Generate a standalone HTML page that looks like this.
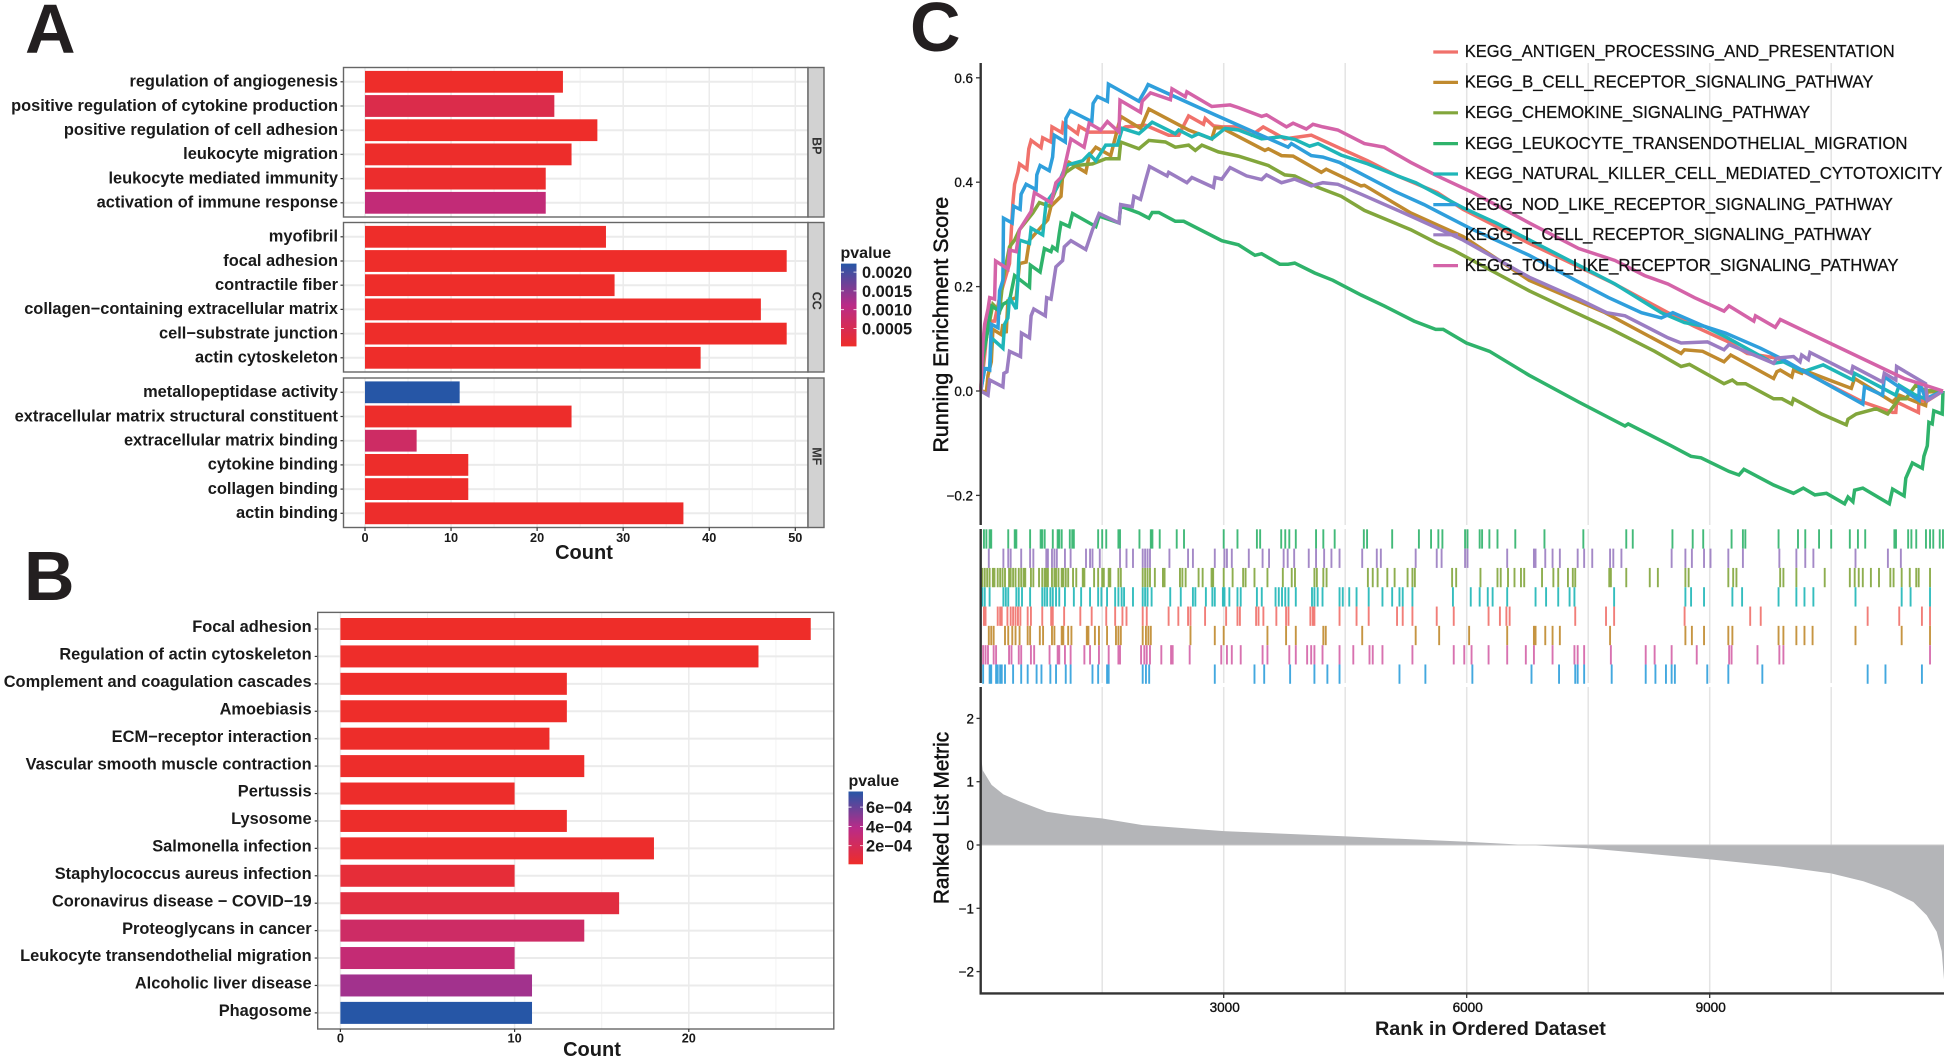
<!DOCTYPE html>
<html lang="en">
<head>
<meta charset="utf-8">
<title>Enrichment analysis figure</title>
<style>
html,body{margin:0;padding:0;background:#fff;}
svg{display:block;font-family:"Liberation Sans",Arial,sans-serif;}
</style>
</head>
<body>
<svg id="fig" xmlns="http://www.w3.org/2000/svg" width="1948" height="1061" viewBox="0 0 1948 1061">
  <defs>
    <linearGradient id="pgrad" x1="0" y1="1" x2="0" y2="0">
      <stop offset="0" stop-color="#ee2d29"/>
      <stop offset="0.5" stop-color="#b92b88"/>
      <stop offset="1" stop-color="#2656a6"/>
    </linearGradient>
  </defs>
  <rect width="1948" height="1061" fill="#fff"/>
  <text x="25" y="53" font-size="70" font-weight="bold" fill="#231f20">A</text>
  <text x="24" y="600" font-size="70" font-weight="bold" fill="#231f20">B</text>
  <text x="910" y="51" font-size="70" font-weight="bold" fill="#231f20">C</text>
  <g id="panelA"></g>
  <g id="panelB"></g>
  <g id="panelC"></g>
</svg>
<script>
/* ---------- Panel A data ---------- */
const goFacets = ["BP", "CC", "MF"];
const goTerms = [
  ["regulation of angiogenesis","positive regulation of cytokine production","positive regulation of cell adhesion","leukocyte migration","leukocyte mediated immunity","activation of immune response"],
  ["myofibril","focal adhesion","contractile fiber","collagen\u2212containing extracellular matrix","cell\u2212substrate junction","actin cytoskeleton"],
  ["metallopeptidase activity","extracellular matrix structural constituent","extracellular matrix binding","cytokine binding","collagen binding","actin binding"]
];
const goCounts = [[23,22,27,24,21,21],[28,49,29,46,49,39],[11,24,6,12,12,37]];
const goPvalues = [[0.00001,0.0004,0.00001,0.00002,0.00005,0.00092],[0.00001,0.00001,0.00001,0.00001,0.00001,0.00001],[0.00224,0.00002,0.0007,0.00002,0.00002,0.00003]];
const goCountTicks = [0,10,20,30,40,50];
const goMinorTicks = [5,15,25,35,45];
const goPTicks = [0.0005,0.0010,0.0015,0.0020];
const goPTickLabels = ["0.0005","0.0010","0.0015","0.0020"];

/* ---------- Panel B data ---------- */
const keggTerms = ["Focal adhesion","Regulation of actin cytoskeleton","Complement and coagulation cascades","Amoebiasis","ECM\u2212receptor interaction","Vascular smooth muscle contraction","Pertussis","Lysosome","Salmonella infection","Staphylococcus aureus infection","Coronavirus disease \u2212 COVID\u221219","Proteoglycans in cancer","Leukocyte transendothelial migration","Alcoholic liver disease","Phagosome"];
const keggCounts = [27,24,13,13,12,14,10,13,18,10,16,14,10,11,11];
const keggPvalues = [0.000001,0.000002,0.000002,0.000003,0.000005,0.000006,0.000006,0.000008,0.00001,0.00006,0.00009,0.00024,0.0003,0.00044,0.00076];
const keggCountTicks = [0,10,20];
const keggMinorTicks = [5,15,25];
const keggPTicks = [0.0002,0.0004,0.0006];
const keggPTickLabels = ["2e\u221204","4e\u221204","6e\u221204"];

/* ---------- Panel C data ---------- */
const gseaNames = ["KEGG_ANTIGEN_PROCESSING_AND_PRESENTATION","KEGG_B_CELL_RECEPTOR_SIGNALING_PATHWAY","KEGG_CHEMOKINE_SIGNALING_PATHWAY","KEGG_LEUKOCYTE_TRANSENDOTHELIAL_MIGRATION","KEGG_NATURAL_KILLER_CELL_MEDIATED_CYTOTOXICITY","KEGG_NOD_LIKE_RECEPTOR_SIGNALING_PATHWAY","KEGG_T_CELL_RECEPTOR_SIGNALING_PATHWAY","KEGG_TOLL_LIKE_RECEPTOR_SIGNALING_PATHWAY"];

const antigenRank = [0,49,90,172,233,356,397,418,459,479,569,594,622,745,766,868,880,1003,1019,1195,1216,1339,1666,1789,2035,2321,2444,2567,2751,2772,2874,2976,3181,3345,3488,3754,4082,4450,4778,5146,5637,5955,6771,7790,8484,8810,9218,9463,9830,10890,11258,11298,11307,11576,11584,11666,11880];
const antigenES = [0,.069,.134,.134,.179,.244,.361,.396,.419,.435,.425,.464,.480,.466,.485,.477,.506,.495,.513,.493,.507,.496,.496,.506,.509,.490,.490,.527,.511,.522,.508,.506,.506,.490,.506,.483,.490,.464,.441,.412,.380,.348,.283,.208,.150,.124,.095,.072,.063,-.021,-.041,-.041,-.021,-.041,-.015,-.021,0];

const bcellRank = [0,70,90,131,151,254,274,315,336,438,479,561,602,827,868,991,1011,1093,1298,1339,1421,1605,1728,1973,2002,2076,2567,2853,2894,2976,3509,3550,3713,3857,4205,4266,4696,4737,5310,5637,5955,6771,7709,8647,8688,8912,9177,9259,9789,9830,9871,10014,10034,10136,10156,10748,10789,11258,11339,11666,11686,11880];
const bcellES = [0,-.002,.030,.056,.118,.108,.128,.111,.173,.179,.244,.247,.289,.328,.354,.373,.412,.438,.419,.451,.467,.451,.526,.503,.513,.540,.500,.483,.504,.504,.461,.464,.451,.450,.419,.425,.393,.394,.341,.318,.296,.212,.150,.072,.079,.076,.056,.069,.024,.037,.040,.027,.040,.034,.040,.005,.024,-.021,-.008,-.028,-.002,0];

const chemokineRank = [0,29,70,151,233,274,356,418,479,643,725,847,929,1052,1175,1380,1543,1707,1728,1953,2076,2280,2403,2567,2649,2731,2935,3181,3550,3754,3877,4164,4450,4737,5310,5637,5833,6771,7301,7790,8321,8647,8749,9177,9279,9340,9443,9789,9891,10014,10034,10381,10687,10707,10809,11054,11197,11339,11421,11543,11666,11880];
const chemokineES = [0,.069,.102,.166,.153,.212,.276,.289,.309,.341,.361,.354,.386,.419,.432,.435,.445,.445,.477,.464,.480,.477,.467,.471,.461,.471,.458,.450,.432,.414,.412,.390,.373,.346,.309,.283,.270,.192,.153,.118,.076,.047,.051,.014,.021,.014,.014,-.015,-.015,-.025,-.015,-.044,-.065,-.054,-.044,-.034,-.044,-.015,-.015,.011,.001,0];

const leukocyteRank = [0,29,70,131,233,274,356,418,602,614,733,786,868,888,942,970,991,1093,1134,1421,1462,1707,1728,1953,2076,2117,2199,2403,2506,2976,3181,3386,3468,3693,3795,3877,4123,4348,4696,4982,5351,5617,5710,5996,6281,6771,7383,7954,7994,8525,8769,8892,9238,9361,9422,9789,10034,10156,10299,10442,10666,10707,10768,10789,10890,11217,11258,11400,11421,11502,11625,11645,11686,11706,11747,11767,11870,11880];
const leukocyteES = [0,.063,.102,.163,.153,.166,.173,.221,.199,.241,.228,.273,.267,.276,.270,.302,.322,.315,.340,.315,.335,.322,.354,.341,.331,.342,.342,.325,.325,.288,.280,.260,.263,.243,.243,.245,.226,.212,.184,.163,.134,.118,.118,.092,.076,.030,-.021,-.067,-.063,-.105,-.125,-.128,-.154,-.161,-.150,-.180,-.196,-.186,-.199,-.196,-.216,-.203,-.212,-.190,-.186,-.216,-.188,-.201,-.167,-.138,-.148,-.125,-.105,-.060,-.063,-.038,-.044,0];

const nkRank = [0,49,111,131,274,295,336,356,438,459,479,602,622,766,807,929,1052,1257,1339,1421,1543,1687,1748,1953,2117,2403,2444,2608,2690,2853,2935,3017,3181,3468,3713,3877,4061,4164,4450,4778,5146,5371,5637,5955,6363,7179,7831,8402,8688,8933,9218,9789,9912,10156,10401,10768,10789,11298,11339,11543,11666,11880];
const nkES = [0,.043,.043,.102,.082,.128,.140,.179,.157,.212,.289,.283,.312,.299,.361,.386,.432,.441,.454,.441,.471,.471,.503,.493,.515,.493,.500,.487,.493,.483,.493,.503,.500,.483,.487,.482,.469,.474,.452,.435,.412,.399,.377,.351,.322,.257,.205,.150,.131,.124,.102,.053,.056,.037,.050,.021,.034,-.008,.011,-.008,-.015,0];

const nodRank = [0,49,111,131,213,233,274,282,389,405,487,499,561,684,692,733,847,888,909,1044,1052,1105,1371,1388,1441,1564,1576,1953,2035,2067,2894,3795,3836,4082,4225,4430,5105,5474,5637,6036,6771,7342,7750,8158,8402,8545,8933,9198,9626,9871,10890,10911,11135,11156,11584,11586,11666,11880];
const nodES = [0,.043,.040,.128,.121,.192,.212,.331,.322,.354,.348,.377,.396,.386,.414,.432,.422,.448,.490,.477,.522,.537,.516,.551,.564,.555,.588,.555,.577,.587,.529,.467,.474,.451,.448,.438,.383,.357,.344,.312,.260,.212,.179,.150,.140,.150,.124,.111,.082,.063,-.025,.008,-.008,.027,-.018,.017,-.015,0];

const tcellRank = [0,90,111,274,287,323,356,491,504,602,622,655,798,815,868,929,1011,1032,1114,1298,1380,1462,1707,1728,1871,1891,1973,2035,2084,2301,2321,2546,2608,2874,2894,2976,3079,3283,3468,3529,3713,3877,4082,4225,4409,4696,5310,5637,5955,6771,7383,7729,7954,8484,8647,8973,9177,9238,9789,9830,10034,10115,10136,10217,10238,10748,10768,11135,11156,11298,11307,11666,11686,11880];
const tcellES = [0,-.008,.021,.008,.034,.037,.076,.066,.111,.102,.144,.157,.144,.179,.176,.238,.250,.276,.288,.271,.309,.340,.322,.357,.353,.373,.367,.403,.430,.412,.419,.399,.409,.390,.409,.406,.428,.412,.405,.414,.399,.406,.393,.399,.396,.377,.335,.312,.289,.218,.176,.150,.144,.102,.092,.094,.079,.089,.053,.063,.066,.056,.069,.060,.074,.034,.047,.017,.034,.021,.047,.014,-.018,0];

const tollRank = [0,29,49,90,111,172,184,336,356,438,479,622,663,868,929,1011,1114,1277,1339,1482,1564,1707,1720,1973,1994,2096,2342,2362,2526,2546,2853,3079,3181,3468,3529,3775,3857,4020,4102,4225,4409,4737,4982,5310,5637,6077,6771,7383,7831,8198,8484,8810,9177,9238,9544,9565,9810,9871,11400,11680,11880];
const tollES = [0,.095,.128,.157,.179,.176,.249,.234,.270,.267,.309,.344,.380,.361,.399,.412,.483,.467,.513,.500,.516,.496,.557,.534,.555,.571,.558,.579,.564,.573,.545,.548,.543,.526,.529,.506,.513,.502,.511,.506,.500,.474,.467,.438,.412,.380,.322,.273,.250,.221,.205,.179,.153,.163,.134,.144,.122,.137,.024,.010,0];

const leukocyteHits = [40,70,110,130,340,420,440,610,740,760,790,890,950,970,1000,1100,1130,1150,1450,1500,1550,1700,1720,1960,2100,2120,2210,2420,2510,3000,3170,3410,3450,3710,3760,3810,3890,4140,4230,4370,4730,4770,5080,5410,5560,5650,5700,5980,6010,6160,6190,6280,6380,6600,6960,7440,7970,8050,8540,8790,8920,9270,9410,9440,9850,10090,10180,10350,10500,10730,10830,10920,11280,11300,11450,11490,11550,11670,11720,11760,11840,11880];
const tcellHits = [100,280,340,370,500,610,650,810,830,880,910,940,1040,1110,1300,1350,1380,1470,1720,1800,1880,2000,2030,2060,2090,2330,2560,2620,2890,3010,3040,3100,3310,3480,3560,3740,3790,3870,4050,4140,4240,4330,4430,4710,4890,4940,5370,5630,5690,5980,6010,6500,6830,6850,6970,7060,7150,7370,7450,7550,7770,7810,7910,8530,8700,8780,8930,9010,9230,9410,9860,10070,10180,10280,10800,11200,11360];
const chemokineHits = [20,50,80,110,150,170,210,240,270,300,350,370,400,430,470,500,530,550,620,650,720,760,790,810,830,880,910,930,960,1000,1020,1050,1080,1140,1180,1260,1280,1400,1450,1500,1520,1580,1600,1700,1730,2000,2030,2060,2090,2150,2250,2270,2460,2490,2530,2690,2740,2850,2870,3000,3110,3240,3270,3380,3540,3730,3840,3880,4120,4150,4230,4270,4780,4840,4900,5020,5110,5270,5330,5360,5820,5870,6170,6380,6420,6510,6590,6670,6710,6930,7070,7130,7250,7310,7340,7760,7780,7970,8260,8360,8700,8740,9230,9290,9330,9870,9910,10070,10420,10730,10790,10840,10890,10990,11090,11230,11270,11370,11470,11550,11580,11720];
const nkHits = [20,50,110,280,310,340,440,470,510,610,760,790,820,860,890,930,970,1040,1150,1240,1350,1450,1490,1560,1660,1700,1740,1770,1880,2000,2030,2060,2110,2340,2470,2620,2650,2780,2860,2890,2990,3010,3070,3170,3210,3410,3470,3640,3680,3720,3760,3800,3890,4090,4120,4160,4220,4430,4470,4550,4640,4790,4960,5080,5170,5210,5330,5830,6050,6160,6260,6320,6500,6850,6980,7130,7270,7330,7820,8700,8770,8930,9280,9400,9850,10070,10170,10280,10800,11370,11480,11720];
const antigenHits = [40,60,210,240,260,330,370,400,430,460,490,580,620,760,870,890,1030,1230,1370,1550,1660,1750,1800,2000,2050,2320,2440,2560,2590,2770,3030,3170,3200,3400,3430,3490,3650,3770,3800,4070,4100,4120,4430,4640,4790,5140,5210,5330,5630,5840,6270,6410,6490,6530,7340,7720,7820,8690,9500,9630,10950,11340,11620,11720];
const bcellHits = [100,130,160,300,340,390,430,480,580,610,730,770,880,910,1000,1020,1080,1120,1310,1330,1410,1460,1560,1670,1700,1730,2000,2040,2070,2100,2590,2890,3000,3540,3770,3890,4230,4260,4710,5370,5660,6030,6500,6830,6850,6970,7060,7150,7770,8700,8780,8930,9230,9280,9850,9910,10070,10170,10270,10800,11370,11720];
const tollHits = [30,60,90,160,190,350,380,470,500,620,660,850,950,970,1040,1110,1280,1350,1460,1580,1700,1720,1980,2020,2050,2090,2230,2350,2370,2580,2970,3040,3100,3210,3480,3540,3810,3890,4030,4080,4120,4220,4430,4600,4800,4840,4960,5330,5840,5970,6060,6270,6500,6730,6830,7060,7330,7370,7450,7780,8210,8320,8530,8840,9240,9270,9590,9860,9910,11720];
const nodHits = [30,110,130,190,210,240,260,300,400,500,580,690,750,860,930,1050,1110,1380,1450,1560,1580,2000,2040,2080,2890,3380,3500,3820,4120,4280,4430,5170,5490,6070,6800,7140,7340,7370,7450,7790,8210,8330,8460,8530,8570,8970,9230,9650,10950,11170,11620];

const metricRank = [0,5,25,135,280,485,815,1100,1494,2000,3000,4510,6000,6740,7490,8990,9868,10498,10896,11226,11514,11679,11802,11864,11893];
const metricValue = [1.6,1.4,1.18,.95,.80,.685,.526,.47,.42,.315,.22,.136,.05,0,-.05,-.225,-.34,-.449,-.574,-.72,-.90,-1.11,-1.37,-1.68,-2.12];

const rankGrid = [1500,3000,4500,6000,7500,9000,10500];
const rankTicks = [3000,6000,9000];
const esTicks = [-0.2,0,0.2,0.4,0.6];
const esTickLabels = ["\u22120.2","0.0","0.2","0.4","0.6"];
const metricTicks = [-2,-1,0,1,2];
const metricTickLabels = ["\u22122","\u22121","0","1","2"];

/* ---------- helpers ---------- */
const NS = "http://www.w3.org/2000/svg";
function el(tag, attrs, parent, txt){
  const e = document.createElementNS(NS, tag);
  for (const k in attrs) e.setAttribute(k, attrs[k]);
  if (txt !== undefined) e.textContent = txt;
  parent.appendChild(e);
  return e;
}
function mix(a,b,t){
  const pa=[parseInt(a.slice(1,3),16),parseInt(a.slice(3,5),16),parseInt(a.slice(5,7),16)];
  const pb=[parseInt(b.slice(1,3),16),parseInt(b.slice(3,5),16),parseInt(b.slice(5,7),16)];
  return "rgb("+pa.map((v,i)=>Math.round(v+(pb[i]-v)*t)).join(",")+")";
}
function pColor(t){
  t=Math.max(0,Math.min(1,t));
  return t<.5 ? mix("#ee2d29","#b92b88",t*2) : mix("#b92b88","#2656a6",(t-.5)*2);
}
const GRID="#ebebeb", TXT="#1a1a1a";

/* ---------- Panel A ---------- */
(function(){
  const g=document.getElementById("panelA");
  const xA=c=>365+c*8.606;
  const tops=[67.5,222.5,378], H=149.5, L=343.5, R=808, SR=824;
  const PA_MAX=0.00224;
  goFacets.forEach((f,fi)=>{
    const top=tops[fi];
    const rowY=i=>top+14.3+i*24.2;
    goMinorTicks.forEach(v=>{
      const l=el("line",{x1:xA(v),x2:xA(v),y1:top,y2:top+H,stroke:"#f2f2f2","stroke-width":1},g);
      
      
    });
    goCountTicks.forEach(v=>{
      const l=el("line",{x1:xA(v),x2:xA(v),y1:top,y2:top+H,stroke:GRID,"stroke-width":1.5},g);
      
      
    });
    goTerms[fi].forEach((t,i)=>{
      const gl=el("line",{x1:L,x2:R,y1:rowY(i),y2:rowY(i),stroke:GRID,"stroke-width":2},g);
      
      
      const b=el("rect",{x:xA(0),y:rowY(i)-10.9,width:xA(goCounts[fi][i])-xA(0),height:21.8,fill:pColor(goPvalues[fi][i]/PA_MAX)},g);
      
      
      const tick=el("line",{x1:L-3,x2:L,y1:rowY(i),y2:rowY(i),stroke:"#333","stroke-width":1.2},g);
      
      
      const lab=el("text",{x:338,y:rowY(i)+4.8,"text-anchor":"end","font-size":16.4,"font-weight":"bold",fill:TXT},g,t);
      
      
    });
    const box=el("rect",{x:L,y:top,width:R-L,height:H,fill:"none",stroke:"#666","stroke-width":1.4},g);
    
    
    const st=el("rect",{x:R,y:top,width:SR-R,height:H,fill:"#d2d2d2",stroke:"#666","stroke-width":1.4},g);
    
    
    const cx=816.5, cy=top+H/2+3.5;
    const sl=el("text",{x:cx,y:cy,"text-anchor":"middle","dominant-baseline":"central","font-size":12.5,"font-weight":"bold",fill:"#333",transform:"rotate(90 "+cx+" "+cy+")"},g,f);
    
    
  });
  goCountTicks.forEach(v=>{
    const t=el("line",{x1:xA(v),x2:xA(v),y1:527.5,y2:531,stroke:"#333","stroke-width":1.2},g);
    
    
    const tl=el("text",{x:xA(v),y:542,"text-anchor":"middle","font-size":12.7,"font-weight":"bold",fill:TXT},g,String(v));
    
    
  });
  const ct=el("text",{x:584,y:559,"text-anchor":"middle","font-size":20,"font-weight":"bold",fill:TXT},g,"Count");
  
  
  const pt=el("text",{x:840.5,y:258,"font-size":16,"font-weight":"bold",fill:TXT},g,"pvalue");
  
  
  const cb=el("rect",{x:841,y:263.6,width:15.5,height:82.8,fill:"url(#pgrad)"},g);
  
  
  const pY=p=>347.3-p/0.0005*18.8;
  goPTicks.forEach((p,i)=>{
    const l1=el("line",{x1:841,x2:844,y1:pY(p),y2:pY(p),stroke:"#fff","stroke-width":.8},g);
    
    
    const l2=el("line",{x1:853.5,x2:856.5,y1:pY(p),y2:pY(p),stroke:"#fff","stroke-width":.8},g);
    
    
    const lt=el("text",{x:862,y:pY(p)+6,"font-size":16.4,"font-weight":"bold",fill:TXT},g,goPTickLabels[i]);
    
    
  });
})();

/* ---------- Panel B ---------- */
(function(){
  const g=document.getElementById("panelB");
  const xB=c=>340.4+c*17.42;
  const yB=i=>629+i*27.42;
  const L=317.7,R=833.8,T=612.4,Bt=1029;
  const PB_MAX=0.00076;
  keggMinorTicks.forEach(v=>{
    const l=el("line",{x1:xB(v),x2:xB(v),y1:T,y2:Bt,stroke:"#f2f2f2","stroke-width":1},g);
    
    
  });
  keggCountTicks.forEach(v=>{
    const l=el("line",{x1:xB(v),x2:xB(v),y1:T,y2:Bt,stroke:GRID,"stroke-width":1.5},g);
    
    
  });
  keggTerms.forEach((t,i)=>{
    const gl=el("line",{x1:L,x2:R,y1:yB(i),y2:yB(i),stroke:GRID,"stroke-width":2},g);
    
    
    const b=el("rect",{x:xB(0),y:yB(i)-11,width:xB(keggCounts[i])-xB(0),height:22,fill:pColor(keggPvalues[i]/PB_MAX)},g);
    
    
    const tick=el("line",{x1:L-3,x2:L,y1:yB(i),y2:yB(i),stroke:"#333","stroke-width":1.2},g);
    
    
    const lab=el("text",{x:311.6,y:yB(i)+3.2,"text-anchor":"end","font-size":16.4,"font-weight":"bold",fill:TXT},g,t);
    
    
  });
  const box=el("rect",{x:L,y:T,width:R-L,height:Bt-T,fill:"none",stroke:"#666","stroke-width":1.4},g);
  
  
  keggCountTicks.forEach(v=>{
    const t=el("line",{x1:xB(v),x2:xB(v),y1:Bt,y2:Bt+3,stroke:"#333","stroke-width":1.2},g);
    
    
    const tl=el("text",{x:xB(v),y:1042.5,"text-anchor":"middle","font-size":12.7,"font-weight":"bold",fill:TXT},g,String(v));
    
    
  });
  const ct=el("text",{x:592,y:1056,"text-anchor":"middle","font-size":20,"font-weight":"bold",fill:TXT},g,"Count");
  
  
  const pt=el("text",{x:848.5,y:786,"font-size":16,"font-weight":"bold",fill:TXT},g,"pvalue");
  
  
  const cb=el("rect",{x:848.5,y:791.5,width:14.5,height:72.8,fill:"url(#pgrad)"},g);
  
  
  const pY=p=>865-p/0.0002*19.3;
  keggPTicks.forEach((p,i)=>{
    const l1=el("line",{x1:848.5,x2:851.5,y1:pY(p),y2:pY(p),stroke:"#fff","stroke-width":.8},g);
    
    
    const l2=el("line",{x1:860,x2:863,y1:pY(p),y2:pY(p),stroke:"#fff","stroke-width":.8},g);
    
    
    const lt=el("text",{x:866,y:pY(p)+6,"font-size":16.4,"font-weight":"bold",fill:TXT},g,keggPTickLabels[i]);
    
    
  });
})();

/* ---------- Panel C ---------- */
(function(){
  const g=document.getElementById("panelC");
  const xR=r=>980.7+r*0.081;
  const yES=v=>391-v*522;
  const yM=v=>845-v*63.3;
  const AX="#333";
  const colors=["#f0716b","#c08a2e","#82a63c","#2fb36b","#1fb6b8","#2f9fdc","#9b7dc2","#d463a8"];
  const ranks=[antigenRank,bcellRank,chemokineRank,leukocyteRank,nkRank,nodRank,tcellRank,tollRank];
  const scores=[antigenES,bcellES,chemokineES,leukocyteES,nkES,nodES,tcellES,tollES];
  const hits=[antigenHits,bcellHits,chemokineHits,leukocyteHits,nkHits,nodHits,tcellHits,tollHits];
  const hitOrder=[3,6,2,4,0,1,7,5];

  rankGrid.forEach(r=>{
    [[63,525],[529,683],[687,993]].forEach(seg=>{
      const l=el("line",{x1:xR(r),x2:xR(r),y1:seg[0],y2:seg[1],stroke:"#e4e4e4","stroke-width":1.5},g);
      
      
    });
  });

  ranks.forEach((rk,s)=>{
    const pts=rk.map((r,i)=>xR(r).toFixed(1)+","+yES(scores[s][i]).toFixed(1)).join(" ");
    const pl=el("polyline",{points:pts,fill:"none",stroke:colors[s],"stroke-width":3.5,"stroke-linejoin":"miter","stroke-miterlimit":3},g);
    
    
  });

  hitOrder.forEach((s,row)=>{
    const top=529.3+row*19.31;
    hits[s].forEach(r=>{
      const h=el("line",{x1:xR(r),x2:xR(r),y1:top,y2:top+19.31,stroke:colors[s],"stroke-width":1.9,opacity:.9},g);
      
      
    });
  });

  const areaPts=[xR(metricRank[0]).toFixed(1)+","+yM(0)];
  metricRank.forEach((r,i)=>areaPts.push(xR(r).toFixed(1)+","+yM(metricValue[i]).toFixed(1)));
  areaPts.push(xR(metricRank[metricRank.length-1]).toFixed(1)+","+yM(0));
  const area=el("polygon",{points:areaPts.join(" "),fill:"#b4b5b8"},g);
  
  
  const zero=el("line",{x1:xR(0),x2:1944,y1:yM(0),y2:yM(0),stroke:"#c8c8ca","stroke-width":1},g);
  
  

  [[63,525],[529,683],[687,994.5]].forEach(seg=>{
    const a=el("line",{x1:980.7,x2:980.7,y1:seg[0],y2:seg[1],stroke:AX,"stroke-width":2.4},g);
    
    
  });
  const xa=el("line",{x1:979.5,x2:1944,y1:993.4,y2:993.4,stroke:AX,"stroke-width":2.4},g);
  
  

  esTicks.forEach((v,i)=>{
    const t=el("line",{x1:976,x2:980,y1:yES(v),y2:yES(v),stroke:AX,"stroke-width":1.3},g);
    
    
    const tl=el("text",{x:973,y:yES(v)+5,"text-anchor":"end","font-size":13.4,stroke:"#111","stroke-width":.3,fill:"#111"},g,esTickLabels[i]);
    
    
  });
  metricTicks.forEach((v,i)=>{
    const t=el("line",{x1:976.5,x2:980,y1:yM(v),y2:yM(v),stroke:AX,"stroke-width":1.3},g);
    
    
    const tl=el("text",{x:974,y:yM(v)+5,"text-anchor":"end","font-size":13.4,stroke:"#111","stroke-width":.3,fill:"#111"},g,metricTickLabels[i]);
    
    
  });
  rankTicks.forEach(r=>{
    const t=el("line",{x1:xR(r),x2:xR(r),y1:994,y2:998,stroke:AX,"stroke-width":1.3},g);
    
    
    const tl=el("text",{x:xR(r)+1,y:1012,"text-anchor":"middle","font-size":13.6,stroke:"#111","stroke-width":.35,fill:"#111"},g,String(r));
    
    
  });

  const xt=el("text",{x:1490.4,y:1035,"text-anchor":"middle","font-size":19.8,"font-weight":"bold",fill:TXT},g,"Rank in Ordered Dataset");
  
  
  const yt1=el("text",{x:0,y:0,"text-anchor":"middle","font-size":21.4,stroke:"#111","stroke-width":.5,fill:"#111",transform:"translate(948 324.7) rotate(-90)"},g,"Running Enrichment Score");
  
  
  const yt2=el("text",{x:0,y:0,"text-anchor":"middle","font-size":20.8,stroke:"#111","stroke-width":.5,fill:"#111",transform:"translate(948.3 818) rotate(-90)"},g,"Ranked List Metric");
  
  

  const legY=[51.4,81.8,112.2,143,173.4,204,234.2,265];
  const legW=[430,408.7,345.4,442.8,477.7,428.2,407,433.8];
  gseaNames.forEach((n,i)=>{
    const k=el("line",{x1:1433.3,x2:1458,y1:legY[i]+.6,y2:legY[i]+.6,stroke:colors[i],"stroke-width":3.2},g);
    
    
    const t=el("text",{x:1464.7,y:legY[i]+5.8,"font-size":17.4,stroke:"#111","stroke-width":.25,fill:"#111",textLength:legW[i],lengthAdjust:"spacingAndGlyphs"},g,n);
    
    
  });
})();
</script>
</body>
</html>
